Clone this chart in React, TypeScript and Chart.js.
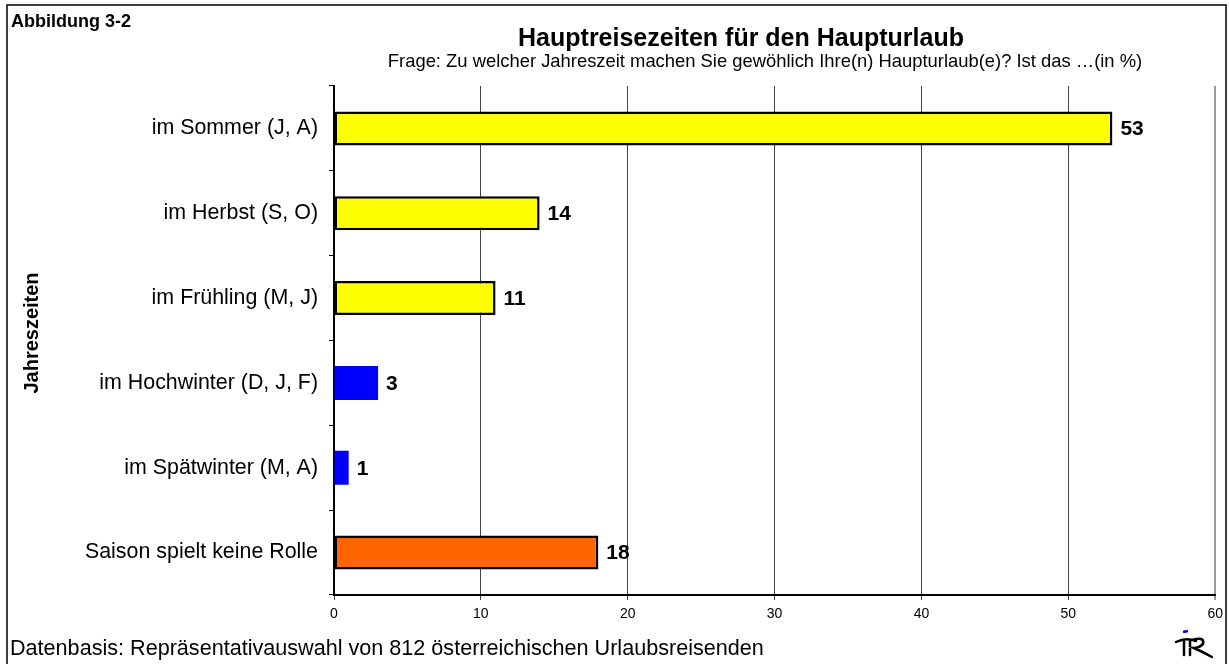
import { useEffect, useRef } from "react";
import { Chart, registerables } from "chart.js";

Chart.register(...registerables);

const categories = [
  "im Sommer (J, A)",
  "im Herbst (S, O)",
  "im Frühling (M, J)",
  "im Hochwinter (D, J, F)",
  "im Spätwinter (M, A)",
  "Saison spielt keine Rolle",
];
const values = [53, 14, 11, 3, 1, 18];
const barColors = ["#FFFF00", "#FFFF00", "#FFFF00", "#0000FF", "#0000FF", "#FF6600"];
const barBorderWidths = [2.5, 2.5, 2.5, 0, 0, 2.5];
const xMin = 0;
const xMax = 60;
const xStep = 10;

const figureLabel = "Abbildung 3-2";
const chartTitle = "Hauptreisezeiten für den Haupturlaub";
const chartSubtitle = "Frage: Zu welcher Jahreszeit machen Sie gewöhlich Ihre(n) Haupturlaub(e)? Ist das …(in %)";
const axisTitle = "Jahreszeiten";
const footerText = "Datenbasis: Repräsentativauswahl von 812 österreichischen Urlaubsreisenden";

const FONT = "'Liberation Sans', Arial, sans-serif";

const decorPlugin = {
  id: "decor",
  beforeDraw(chart: any) {
    const ctx = chart.ctx;
    ctx.save();
    ctx.fillStyle = "#ffffff";
    ctx.fillRect(0, 0, chart.width, chart.height);
    ctx.restore();
  },
  afterDraw(chart: any) {
    const ctx = chart.ctx;
    ctx.save();
    // frame
    ctx.strokeStyle = "#000";
    ctx.lineWidth = 1.5;
    ctx.strokeRect(7, 5, 1219, 720);

    ctx.fillStyle = "#000";
    ctx.textBaseline = "middle";
    ctx.textAlign = "left";
    ctx.font = `bold 18px ${FONT}`;
    ctx.fillText(figureLabel, 11, 22);

    ctx.textAlign = "center";
    ctx.font = `bold 25px ${FONT}`;
    ctx.fillText(chartTitle, 741, 39);
    ctx.font = `18.4px ${FONT}`;
    ctx.fillText(chartSubtitle, 765, 62);

    ctx.textAlign = "left";
    ctx.font = `21.6px ${FONT}`;
    ctx.fillText(footerText, 10, 649);

    // y-axis title
    ctx.save();
    ctx.translate(32, 333);
    ctx.rotate(-Math.PI / 2);
    ctx.textAlign = "center";
    ctx.font = `bold 20px ${FONT}`;
    ctx.fillText(axisTitle, 0, 0);
    ctx.restore();

    // logo
    ctx.save();
    ctx.strokeStyle = "#0000FF";
    ctx.lineWidth = 2.5;
    ctx.beginPath();
    ctx.moveTo(1183, 632);
    ctx.lineTo(1188, 631);
    ctx.stroke();
    ctx.strokeStyle = "#000";
    ctx.lineWidth = 2.5;
    ctx.lineCap = "round";
    ctx.beginPath();
    ctx.moveTo(1176, 642);
    ctx.quadraticCurveTo(1186, 637, 1196, 641);
    ctx.moveTo(1184, 640);
    ctx.lineTo(1184, 655);
    ctx.moveTo(1190, 641);
    ctx.lineTo(1190, 655);
    ctx.moveTo(1192, 640);
    ctx.quadraticCurveTo(1205, 636, 1203, 644);
    ctx.quadraticCurveTo(1199, 648, 1194, 648);
    ctx.quadraticCurveTo(1203, 652, 1212, 657);
    ctx.stroke();
    ctx.restore();

    // data labels
    const meta = chart.getDatasetMeta(0);
    ctx.font = `bold 21px ${FONT}`;
    ctx.textAlign = "left";
    ctx.textBaseline = "middle";
    ctx.fillStyle = "#000";
    meta.data.forEach((el: any, i: number) => {
      ctx.fillText(String(values[i]), el.x + 8, el.y + 1);
    });
    ctx.restore();
  },
};

export default function App() {
  const ref = useRef<HTMLCanvasElement | null>(null);

  useEffect(() => {
    document.body.style.margin = "0";
    const canvas = ref.current;
    if (!canvas) return;
    const chart = new Chart(canvas, {
      type: "bar",
      data: {
        labels: categories,
        datasets: [
          {
            data: values,
            backgroundColor: barColors,
            borderColor: "#000000",
            borderWidth: barBorderWidths,
            borderSkipped: false,
            categoryPercentage: 1,
            barPercentage: 0.4,
          },
        ],
      },
      options: {
        indexAxis: "y",
        responsive: false,
        devicePixelRatio: 1,
        animation: false,
        layout: { padding: { left: 20, top: 86, right: 13, bottom: 39 } },
        plugins: {
          legend: { display: false },
          tooltip: { enabled: false },
          title: { display: false },
        },
        scales: {
          y: {
            type: "category",
            afterFit(s: any) {
              s.width = 314;
            },
            ticks: { color: "#000", font: { family: FONT, size: 21.4 }, padding: 11 },
            grid: { drawOnChartArea: false, drawTicks: true, tickLength: 5, color: "#000", offset: true },
            border: { color: "#000", width: 2 },
          },
          x: {
            type: "linear",
            min: xMin,
            max: xMax,
            afterFit(s: any) {
              s.height = 30;
            },
            ticks: { stepSize: xStep, color: "#000", font: { family: FONT, size: 14 }, padding: 6 },
            grid: {
              color: (c: any) => (c.tick && c.tick.value === xMax ? "#999999" : "#444444"),
              lineWidth: (c: any) => (c.tick && c.tick.value === xMax ? 2 : 1),
              tickLength: 5,
              drawTicks: true,
            },
            border: { color: "#000", width: 2 },
          },
        },
      },
      plugins: [decorPlugin],
    } as any);
    return () => chart.destroy();
  }, []);

  return (
    <div style={{ width: 1229, height: 664 }}>
      <canvas ref={ref} width={1229} height={664} style={{ display: "block" }} />
    </div>
  );
}
